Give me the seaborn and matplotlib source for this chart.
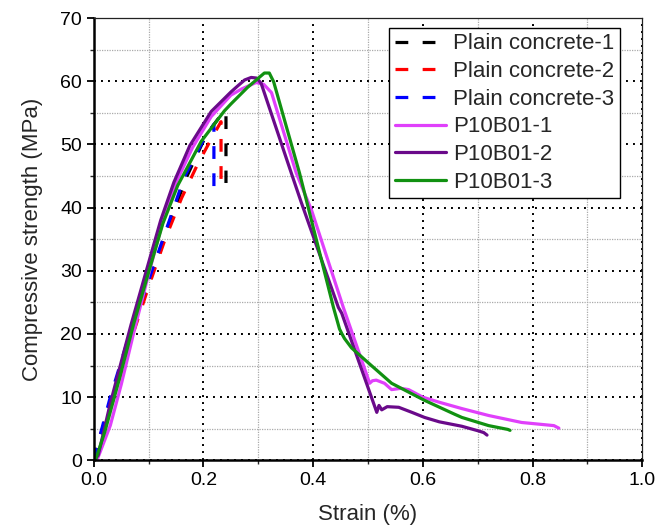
import numpy as np
import pandas as pd
import matplotlib
matplotlib.use("Agg")
import matplotlib.pyplot as plt
from matplotlib.ticker import MultipleLocator
import seaborn as sns

# strain (%) / compressive strength (MPa)
pc1_strain = [0, 0.012, 0.035, 0.065, 0.10, 0.135, 0.17, 0.205, 0.228, 0.241, 0.241]
pc1_stress = [0, 3.8, 10.6, 19.0, 28.0, 37.0, 45.0, 51.5, 54.2, 55.2, 43.9]
pc2_strain = [0, 0.012, 0.025, 0.035, 0.06, 0.10, 0.13, 0.16, 0.19, 0.215, 0.232, 0.232]
pc2_stress = [0, 4.0, 7.5, 9.5, 17.0, 27.5, 35.0, 41.5, 47.0, 51.0, 53.6, 42.5]
pc3_strain = [0, 0.01, 0.03, 0.06, 0.10, 0.13, 0.165, 0.2, 0.219, 0.219]
pc3_stress = [0, 3.5, 10.0, 18.5, 28.5, 36.0, 44.8, 50.7, 53.2, 42.0]

p1_strain = [0, 0.007, 0.03, 0.05, 0.075, 0.10, 0.125, 0.15, 0.18, 0.214, 0.25, 0.27, 0.296,
             0.31, 0.324, 0.369, 0.397, 0.455, 0.503, 0.508, 0.515, 0.53, 0.543, 0.56, 0.574,
             0.60, 0.63, 0.671, 0.72, 0.78, 0.839, 0.848]
p1_stress = [0, 0.3, 5.5, 12.0, 21.0, 29.5, 37.5, 44.0, 49.5, 54.4, 57.8, 58.8, 59.8,
             59.5, 58.2, 45.5, 39.6, 24.2, 12.2, 12.6, 12.7, 12.2, 11.2, 11.4, 11.2,
             10.0, 9.2, 8.2, 7.1, 6.0, 5.5, 5.1]
p2_strain = [0, 0.008, 0.03, 0.068, 0.099, 0.122, 0.146, 0.175, 0.214, 0.25, 0.263, 0.275,
             0.287, 0.297, 0.305, 0.36, 0.378, 0.446, 0.452, 0.516, 0.52, 0.525, 0.535,
             0.556, 0.58, 0.603, 0.63, 0.671, 0.70, 0.711, 0.717]
p2_stress = [0, 0.8, 9.0, 21.5, 31.0, 38.0, 44.0, 49.8, 55.2, 58.3, 59.3, 60.2,
             60.6, 60.5, 59.7, 45.5, 40.9, 24.2, 23.3, 7.6, 8.7, 8.0, 8.5,
             8.4, 7.6, 6.8, 6.1, 5.4, 4.7, 4.4, 4.0]
p3_strain = [0, 0.004, 0.02, 0.046, 0.073, 0.104, 0.126, 0.153, 0.196, 0.238, 0.25, 0.28,
             0.311, 0.32, 0.328, 0.375, 0.437, 0.448, 0.452, 0.457, 0.47, 0.501, 0.543,
             0.603, 0.658, 0.671, 0.72, 0.755, 0.759]
p3_stress = [0, 0.3, 4.5, 12.7, 21.7, 31.0, 37.5, 43.5, 50.5, 55.3, 56.4, 59.0,
             61.3, 61.3, 59.9, 45.5, 24.2, 20.8, 20.1, 19.3, 17.8, 15.4, 12.2,
             9.5, 7.3, 6.8, 5.5, 4.9, 4.75]

labels = ["Plain concrete-1", "Plain concrete-2", "Plain concrete-3",
          "P10B01-1", "P10B01-2", "P10B01-3"]
strains = [pc1_strain, pc2_strain, pc3_strain, p1_strain, p2_strain, p3_strain]
stresses = [pc1_stress, pc2_stress, pc3_stress, p1_stress, p2_stress, p3_stress]
colors = ["#000000", "#ff0000", "#0000ff", "#e040fb", "#6a0a8a", "#119111"]
dashed = [True, True, True, False, False, False]

sns.set_style("ticks")
plt.rcParams['font.family'] = ['Liberation Sans', 'DejaVu Sans']

fig, ax = plt.subplots(figsize=(6.56, 5.31), dpi=100)
fig.subplots_adjust(left=0.143, right=0.979, bottom=0.133, top=0.966)

for lab, x, y, c, d in zip(labels, strains, stresses, colors, dashed):
    df = pd.DataFrame({"strain": x, "stress": y})
    sns.lineplot(data=df, x="strain", y="stress", sort=False, estimator=None,
                 color=c, lw=2.3, label=lab, ax=ax)
    if d:
        ax.lines[-1].set_dashes((4, 4.5))

ax.set_xlim(0, 1.0)
ax.set_ylim(0, 70)
ax.xaxis.set_major_locator(MultipleLocator(0.2))
ax.xaxis.set_minor_locator(MultipleLocator(0.1))
ax.yaxis.set_major_locator(MultipleLocator(10))
ax.yaxis.set_minor_locator(MultipleLocator(5))

ax.grid(which='major', color='black', linestyle=(0, (1, 2.6)), linewidth=1.4)
ax.grid(which='minor', color='#aaaaaa', linestyle=(0, (1, 1)), linewidth=0.9)
ax.set_axisbelow(True)

ax.tick_params(which='major', direction='out', length=5, width=1.3, labelsize=14, colors='black')
ax.tick_params(which='minor', direction='out', length=3, width=1.0)
for s in ['left', 'bottom']:
    ax.spines[s].set_linewidth(1.8)
    ax.spines[s].set_color('black')
for s in ['top', 'right']:
    ax.spines[s].set_linewidth(0.9)
    ax.spines[s].set_color('#222222')

ax.set_xlabel('Strain (%)', fontsize=16, labelpad=11)
ax.set_ylabel('Compressive strength (MPa)', fontsize=16, labelpad=12)

leg = ax.legend(loc='upper right', bbox_to_anchor=(0.96, 0.978), fontsize=16,
                frameon=True, fancybox=False, edgecolor='black', framealpha=1,
                borderaxespad=0, handlelength=2.3, handletextpad=0.35,
                labelspacing=0.3, borderpad=0.25)
leg.get_frame().set_linewidth(1.0)

fig.savefig("out.png", dpi=100)
